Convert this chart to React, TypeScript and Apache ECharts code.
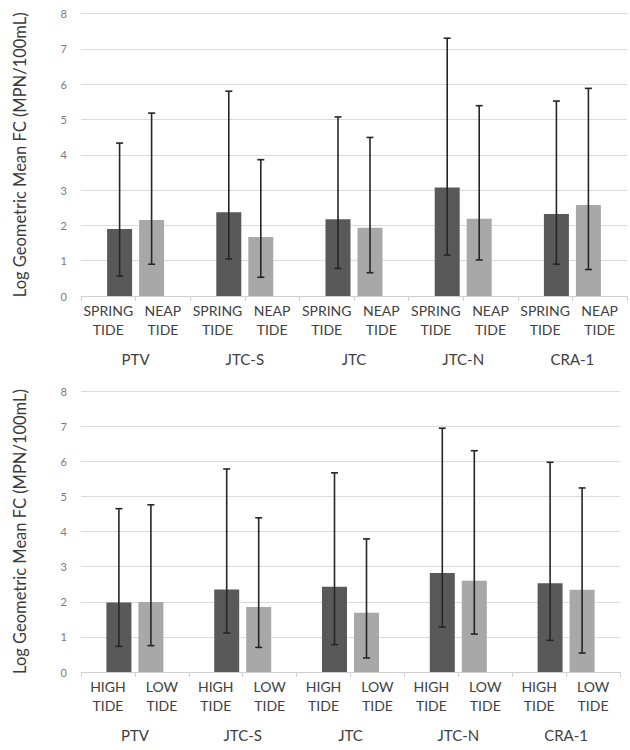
import React, { useEffect, useRef } from "react";
import * as echarts from "echarts";

// Sampling sites along the shore
const sites = ["PTV", "JTC-S", "JTC", "JTC-N", "CRA-1"];

// Upper panel: spring vs neap tide
const springNeapLabels = ["SPRING\nTIDE", "NEAP\nTIDE"];
const springMean = [1.9, 2.37, 2.17, 3.07, 2.32];
const springLow = [0.56, 1.05, 0.78, 1.16, 0.9];
const springHigh = [4.33, 5.8, 5.07, 7.3, 5.52];
const neapMean = [2.15, 1.67, 1.93, 2.19, 2.58];
const neapLow = [0.9, 0.53, 0.66, 1.02, 0.75];
const neapHigh = [5.18, 3.86, 4.49, 5.39, 5.88];

// Lower panel: high vs low tide
const highLowLabels = ["HIGH\nTIDE", "LOW\nTIDE"];
const highMean = [1.98, 2.35, 2.43, 2.82, 2.53];
const highLow = [0.73, 1.11, 0.78, 1.28, 0.9];
const highHigh = [4.65, 5.78, 5.67, 6.94, 5.97];
const lowMean = [1.99, 1.85, 1.69, 2.6, 2.34];
const lowLow = [0.75, 0.7, 0.4, 1.08, 0.54];
const lowHigh = [4.76, 4.39, 3.79, 6.3, 5.24];

const yTicks = [0, 1, 2, 3, 4, 5, 6, 7, 8];
const yTitle = "Log Geometric Mean FC (MPN/100mL)";

const FONT = "Lato, 'Open Sans', sans-serif";
const DARK = "#595959";
const LIGHT = "#a8a8a8";
const BAR_W = 25;
const BAR_OFFSET = 16;

function errorSeries(
  low: number[],
  high: number[],
  offset: number,
  xAxisIndex: number,
  yAxisIndex: number
) {
  return {
    type: "custom",
    xAxisIndex,
    yAxisIndex,
    z: 5,
    silent: true,
    encode: { x: 0, y: [1, 2] },
    data: low.map((lo, i) => [i, lo, high[i]]),
    renderItem: (_params: any, api: any) => {
      const cat = api.value(0);
      const pLo = api.coord([cat, api.value(1)]);
      const pHi = api.coord([cat, api.value(2)]);
      const x = pLo[0] + offset;
      const style = { stroke: "#262626", lineWidth: 1.6 };
      const cap = 3.5;
      return {
        type: "group",
        children: [
          { type: "line", shape: { x1: x, y1: pLo[1], x2: x, y2: pHi[1] }, style },
          { type: "line", shape: { x1: x - cap, y1: pHi[1], x2: x + cap, y2: pHi[1] }, style },
          { type: "line", shape: { x1: x - cap, y1: pLo[1], x2: x + cap, y2: pLo[1] }, style },
        ],
      };
    },
  };
}

function groupAxis(gridIndex: number) {
  return {
    type: "category",
    gridIndex,
    data: sites,
    position: "bottom",
    axisLine: { show: false },
    axisTick: { show: false },
    axisLabel: {
      interval: 0,
      margin: 55,
      fontSize: 15,
      color: "#404040",
      fontFamily: FONT,
    },
  };
}

function subAxis(gridIndex: number, pair: string[]) {
  const keys = sites.flatMap((s) => pair.map((p) => s + " " + p));
  return {
    type: "category",
    gridIndex,
    data: keys,
    position: "bottom",
    axisLine: { show: true, lineStyle: { color: "#d0d0d0", width: 1 } },
    axisTick: { show: true, length: 5, lineStyle: { color: "#d0d0d0" } },
    axisLabel: {
      interval: 0,
      margin: 5,
      fontSize: 14,
      lineHeight: 19,
      color: "#404040",
      fontFamily: FONT,
      formatter: (_v: string, i: number) => pair[i % 2],
    },
  };
}

function valueAxis(gridIndex: number) {
  return {
    type: "value",
    gridIndex,
    min: yTicks[0],
    max: yTicks[yTicks.length - 1],
    interval: 1,
    name: yTitle,
    nameLocation: "middle",
    nameRotate: 90,
    nameGap: 53,
    nameTextStyle: { fontSize: 16.5, color: "#3a3a3a", fontFamily: FONT },
    axisLine: { show: false },
    axisTick: { show: false },
    axisLabel: { margin: 14, fontSize: 11, color: "#7a7a7a", fontFamily: FONT },
    splitLine: { lineStyle: { color: "#dcdcdc", width: 1.2 } },
  };
}

function barSeries(name: string, data: number[], color: string, xAxisIndex: number, yAxisIndex: number) {
  return {
    type: "bar",
    name,
    xAxisIndex,
    yAxisIndex,
    data,
    barWidth: BAR_W,
    barGap: "28%",
    itemStyle: { color },
    z: 2,
  };
}

export default function App() {
  const ref = useRef<HTMLDivElement>(null);

  useEffect(() => {
    if (!ref.current) return;
    const chart = echarts.init(ref.current, null, { renderer: "svg" });
    chart.setOption({
      animation: false,
      backgroundColor: "#ffffff",
      textStyle: { fontFamily: FONT },
      grid: [
        { left: 81, right: 3, top: 13.5, height: 282.5 },
        { left: 81, right: 10, top: 391, height: 281 },
      ],
      xAxis: [groupAxis(0), subAxis(0, springNeapLabels), groupAxis(1), subAxis(1, highLowLabels)],
      yAxis: [valueAxis(0), valueAxis(1)],
      series: [
        barSeries("SPRING TIDE", springMean, DARK, 0, 0),
        barSeries("NEAP TIDE", neapMean, LIGHT, 0, 0),
        errorSeries(springLow, springHigh, -BAR_OFFSET, 0, 0),
        errorSeries(neapLow, neapHigh, BAR_OFFSET, 0, 0),
        barSeries("HIGH TIDE", highMean, DARK, 2, 1),
        barSeries("LOW TIDE", lowMean, LIGHT, 2, 1),
        errorSeries(highLow, highHigh, -BAR_OFFSET, 2, 1),
        errorSeries(lowLow, lowHigh, BAR_OFFSET, 2, 1),
      ],
    });
    return () => chart.dispose();
  }, []);

  return (
    <div
      ref={ref}
      style={{ position: "fixed", left: 0, top: 0, width: 630, height: 750, background: "#fff" }}
    />
  );
}
